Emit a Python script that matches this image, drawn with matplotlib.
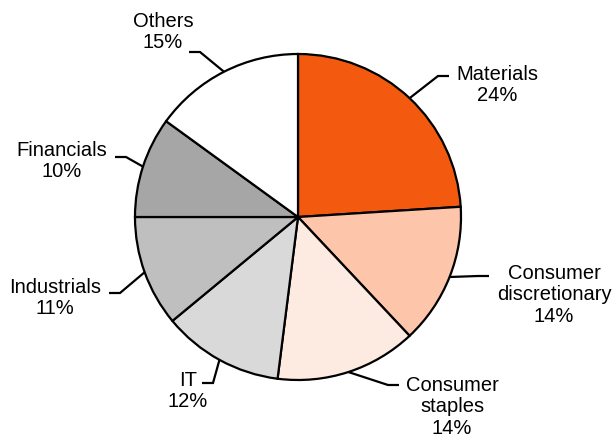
import numpy as np
import matplotlib.pyplot as plt

plt.rcParams["font.family"] = ["Liberation Sans", "DejaVu Sans"]

sectors = ["Materials", "Consumer\ndiscretionary", "Consumer\nstaples", "IT",
           "Industrials", "Financials", "Others"]
shares = [24, 14, 14, 12, 11, 10, 15]
colors = ["#F45A0F", "#FDC5A9", "#FDEBE1", "#D9D9D9", "#BFBFBF", "#A6A6A6", "#FFFFFF"]

# label block centres and leader-line elbows (pixels, from top-left)
label_pos = [(497, 85), (554, 295), (452, 407), (188, 391), (55, 298), (62, 161), (163, 32)]
elbows = [(438, 76), (478, 276), (388, 385), (213, 383), (120, 293), (126, 157), (200, 52)]

W, H = 616, 437
cx, cy, R = 298, H - 217, 163

fig = plt.figure(figsize=(W / 100, H / 100), dpi=100)
ax = fig.add_axes([0, 0, 1, 1])

wedges, _ = ax.pie(shares, colors=colors, startangle=90, counterclock=False,
                   center=(cx, cy), radius=R,
                   wedgeprops=dict(edgecolor="black", linewidth=1.6))

# pie() sets its own limits, so put the pixel frame back afterwards
ax.set_xlim(0, W)
ax.set_ylim(0, H)
ax.set_aspect("equal")
ax.axis("off")

for w, name, val, (tx, ty), (ex, ey) in zip(wedges, sectors, shares, label_pos, elbows):
    ang = np.deg2rad((w.theta1 + w.theta2) / 2)
    x0, y0 = cx + R * np.cos(ang), cy + R * np.sin(ang)
    x1, y1 = ex, H - ey
    side = 1 if x1 > cx else -1
    ax.plot([x0, x1, x1 + side * 11], [y0, y1, y1], color="black", lw=1.6,
            solid_capstyle="butt", solid_joinstyle="miter")
    ax.text(tx, H - ty, f"{name}\n{val}%", ha="center", va="center",
            multialignment="center", fontsize=14.5, linespacing=1.15)

fig.savefig("out.png", dpi=100)
